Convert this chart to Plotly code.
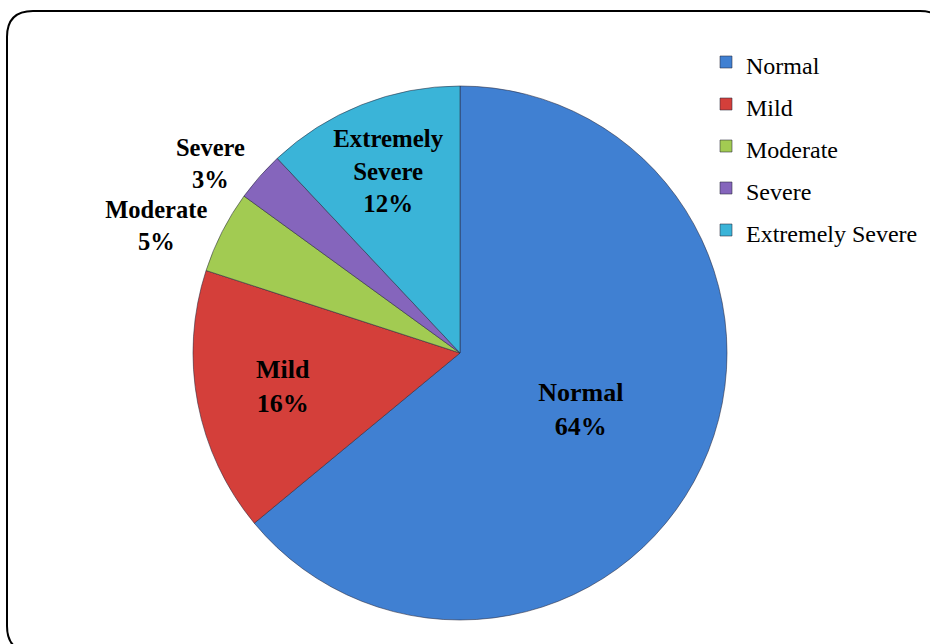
import plotly.graph_objects as go

categories = ["Normal", "Mild", "Moderate", "Severe", "Extremely Severe"]
label_text = ["Normal", "Mild", "Moderate", "Severe", "Extremely<br>Severe"]
values = [64, 16, 5, 3, 12]
colors = ["#4080D2", "#D43F3A", "#A2CB52", "#8565BC", "#3AB4D8"]
text_positions = ["inside", "inside", "outside", "outside", "inside"]

W, H = 930, 644

legend_labels = [f"<span style='font-size:24px'>{c}</span>" for c in categories]
label_sizes = [26 if p == "inside" else 24.5 for p in text_positions]

fig = go.Figure()
fig.add_trace(go.Pie(
    labels=legend_labels,
    values=values,
    text=label_text,
    texttemplate="<b>%{text}<br>%{percent:.0%}</b>",
    textposition=text_positions,
    insidetextorientation="horizontal",
    textfont=dict(family="Liberation Serif", size=label_sizes, color="black"),
    marker=dict(colors=colors, line=dict(color="rgba(40,40,60,0.55)", width=1)),
    sort=False,
    direction="clockwise",
    rotation=0,
    hoverinfo="percent",
    domain=dict(x=[193 / W, 727 / W], y=[1 - 620 / H, 1 - 86 / H]),
))

# rounded border
x0, y0, x1, y1 = 7 / W, 1 - 11 / H, 946 / W, 1 - 652 / H
rx, ry = 26 / W, 26 / H
path = (f"M {x0 + rx},{y0} L {x1 - rx},{y0} Q {x1},{y0} {x1},{y0 - ry} "
        f"L {x1},{y1 + ry} Q {x1},{y1} {x1 - rx},{y1} "
        f"L {x0 + rx},{y1} Q {x0},{y1} {x0},{y1 + ry} "
        f"L {x0},{y0 - ry} Q {x0},{y0} {x0 + rx},{y0} Z")

fig.update_layout(
    width=W, height=H,
    margin=dict(l=0, r=0, t=0, b=0),
    paper_bgcolor="white",
    plot_bgcolor="white",
    shapes=[dict(type="path", path=path, xref="paper", yref="paper",
                 line=dict(color="black", width=2))],
    legend=dict(
        x=706 / W, y=1 - 36 / H, xanchor="left", yanchor="top",
        font=dict(family="Liberation Serif", size=30, color="black"),
        bgcolor="rgba(0,0,0,0)",
        tracegroupgap=0,
    ),
    showlegend=True,
)

fig.write_html("out.html", config={"displayModeBar": False},
               post_script="document.body.style.margin='0';")
